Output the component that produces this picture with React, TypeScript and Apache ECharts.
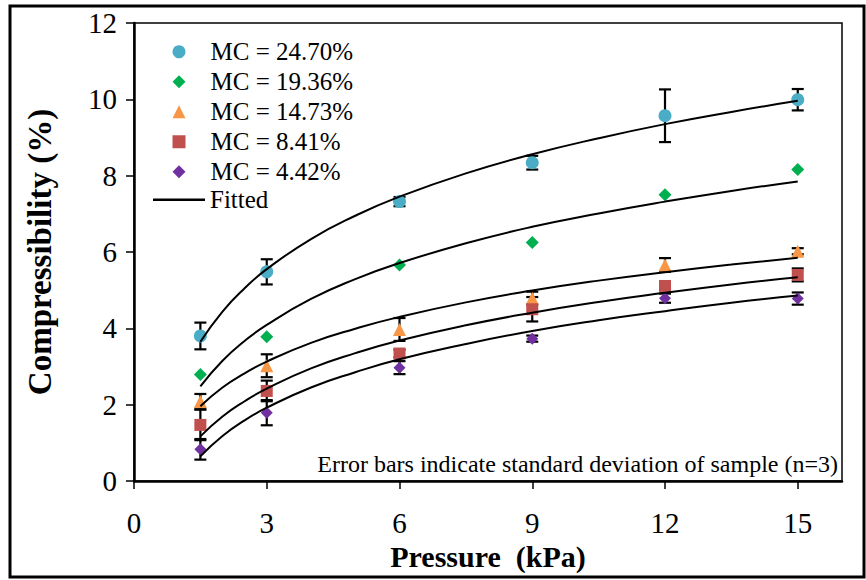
import React, { useEffect, useRef } from "react";
import * as echarts from "echarts";

const pressure = [1.5, 3, 6, 9, 12, 15];
const xTicks = [0, 3, 6, 9, 12, 15];

const mc2470 = [3.8, 5.48, 7.32, 8.34, 9.57, 9.99];
const mc2470Sd = [0.35, 0.33, 0.12, 0.18, 0.69, 0.28];
const mc1936 = [2.79, 3.78, 5.66, 6.25, 7.5, 8.16];
const mc1473 = [2.08, 3.02, 3.97, 4.79, 5.66, 6.02];
const mc1473Sd = [0.2, 0.3, 0.3, 0.17, 0.18, 0.08];
const mc841 = [1.47, 2.36, 3.34, 4.5, 5.11, 5.4];
const mc841Sd = [0.4, 0.27, 0.1, 0.32, 0.1, 0.17];
const mc442 = [0.83, 1.79, 2.97, 3.73, 4.79, 4.78];
const mc442Sd = [0.27, 0.33, 0.17, 0.08, 0.12, 0.16];

const fitX = [1.5, 2, 2.5, 3, 4, 5, 6, 7.5, 9, 10.5, 12, 13.5, 15];
const fit2470 = [3.65, 4.44, 5.05, 5.55, 6.34, 6.95, 7.45, 8.06, 8.56, 8.98, 9.35, 9.67, 9.96];
const fit1936 = [2.48, 3.15, 3.67, 4.09, 4.77, 5.29, 5.71, 6.23, 6.66, 7.01, 7.32, 7.6, 7.85];
const fit1473 = [1.96, 2.45, 2.82, 3.13, 3.62, 3.99, 4.3, 4.68, 4.99, 5.25, 5.47, 5.67, 5.85];
const fit841 = [1.17, 1.69, 2.09, 2.42, 2.95, 3.35, 3.68, 4.08, 4.41, 4.69, 4.93, 5.15, 5.34];
const fit442 = [0.65, 1.18, 1.59, 1.92, 2.45, 2.85, 3.19, 3.59, 3.93, 4.21, 4.45, 4.67, 4.86];

const seriesNames = ["MC = 24.70%", "MC = 19.36%", "MC = 14.73%", "MC = 8.41%", "MC = 4.42%"];
const colors = ["#4BACC6", "#00B050", "#F79646", "#C0504D", "#7030A0"];
const symbols = ["circle", "diamond", "triangle", "rect", "diamond"];
const symbolSizes = [13, 13, 13, 12, 12];

const FONT = "'Liberation Serif', 'Times New Roman', serif";

export default function App() {
  const ref = useRef<HTMLDivElement>(null);
  useEffect(() => {
    if (!ref.current) return;
    const chart = echarts.init(ref.current, null, { renderer: "svg" });
    const values = [mc2470, mc1936, mc1473, mc841, mc442];
    const sds: (number[] | null)[] = [mc2470Sd, null, mc1473Sd, mc841Sd, mc442Sd];
    const fits = [fit2470, fit1936, fit1473, fit841, fit442];

    const errSeries: any[] = [];
    sds.forEach((sd, k) => {
      if (!sd) return;
      errSeries.push({
        type: "custom",
        name: "err" + k,
        z: 1,
        encode: { x: 0, y: 1 },
        data: pressure.map((p, i) => [p, values[k][i], sd[i]]),
        renderItem: (params: any, api: any) => {
          const x = api.value(0);
          const y = api.value(1);
          const e = api.value(2);
          const top = api.coord([x, y + e]);
          const bot = api.coord([x, y - e]);
          const hw = 6;
          const st = { stroke: "#000", lineWidth: 2.2 };
          return {
            type: "group",
            children: [
              { type: "line", shape: { x1: top[0], y1: top[1], x2: bot[0], y2: bot[1] }, style: st },
              { type: "line", shape: { x1: top[0] - hw, y1: top[1], x2: top[0] + hw, y2: top[1] }, style: st },
              { type: "line", shape: { x1: bot[0] - hw, y1: bot[1], x2: bot[0] + hw, y2: bot[1] }, style: st },
            ],
          };
        },
      });
    });

    const scatterSeries = values.map((v, k) => ({
      type: "scatter",
      name: seriesNames[k],
      z: 2,
      symbol: symbols[k],
      symbolSize: symbolSizes[k],
      itemStyle: { color: colors[k], opacity: 1 },
      data: pressure.map((p, i) => [p, v[i]]),
    }));

    const fitSeries = fits.map((f) => ({
      type: "line",
      name: "Fitted",
      z: 3,
      smooth: true,
      symbol: "none",
      lineStyle: { color: "#000", width: 2 },
      itemStyle: { color: "#000" },
      data: fitX.map((x, i) => [x, f[i]]),
    }));

    chart.setOption({
      animation: false,
      backgroundColor: "#fff",
      grid: {
        left: 134,
        right: 24,
        top: 23,
        bottom: 99,
        show: true,
        borderColor: "#000",
        borderWidth: 1.5,
        outerBoundsMode: "none",
        containLabel: false,
      },
      legend: [
        {
          data: seriesNames,
          orient: "vertical",
          left: 167.5,
          top: 32,
          itemWidth: 13,
          itemHeight: 13,
          itemGap: 0.5,
          textStyle: {
            fontFamily: FONT,
            fontSize: 25,
            color: "#000",
            lineHeight: 29.5,
            padding: [0, 0, 0, 20],
          },
        },
        {
          data: [{ name: "Fitted", icon: "rect" }],
          orient: "vertical",
          left: 148,
          top: 180,
          itemWidth: 52,
          itemHeight: 2.5,
          textStyle: { fontFamily: FONT, fontSize: 25, color: "#000", lineHeight: 29.5 },
        },
      ],
      xAxis: {
        type: "value",
        min: 0,
        max: 16,
        name: "Pressure  (kPa)",
        nameLocation: "middle",
        nameGap: 58,
        nameTextStyle: { fontFamily: FONT, fontSize: 30, fontWeight: "bold", color: "#000" },
        axisLine: { show: true, lineStyle: { color: "#000", width: 2.5 } },
        axisTick: { show: true, inside: false, length: 8, lineStyle: { color: "#000", width: 1.5 }, customValues: xTicks },
        axisLabel: { fontFamily: FONT, fontSize: 29, color: "#000", margin: 27, customValues: xTicks },
        splitLine: { show: false },
      },
      yAxis: {
        type: "value",
        min: 0,
        max: 12,
        interval: 2,
        name: "Compressibility (%)",
        nameLocation: "middle",
        nameGap: 78,
        nameRotate: 90,
        nameTextStyle: { fontFamily: FONT, fontSize: 33, fontWeight: "bold", color: "#000" },
        axisLine: { show: true, lineStyle: { color: "#000", width: 2.5 } },
        axisTick: { show: true, inside: false, length: 8, lineStyle: { color: "#000", width: 1.5 } },
        axisLabel: { fontFamily: FONT, fontSize: 29, color: "#000", margin: 17 },
        splitLine: { show: false },
      },
      graphic: [
        {
          type: "rect",
          shape: { x: 10, y: 6, width: 854, height: 571 },
          style: { fill: "none", stroke: "#000", lineWidth: 3 },
          silent: true,
          z: 0,
        },
        {
          type: "text",
          right: 28,
          top: 452,
          style: {
            text: "Error bars indicate standard deviation of sample (n=3)",
            fontFamily: FONT,
            fontSize: 24,
            fill: "#000",
          },
          z: 10,
        },
      ],
      series: [...errSeries, ...scatterSeries, ...fitSeries],
    });
    return () => chart.dispose();
  }, []);
  return (
    <div
      ref={ref}
      style={{ position: "fixed", left: 0, top: 0, width: 866, height: 580, background: "#fff" }}
    />
  );
}
